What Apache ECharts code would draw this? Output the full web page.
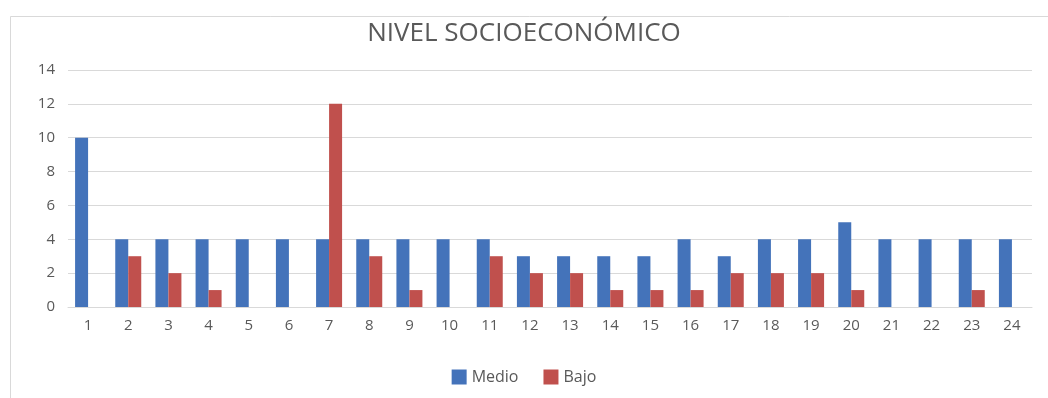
<!DOCTYPE html>
<html>
<head>
<meta charset="utf-8">
<script src="https://cdn.jsdelivr.net/npm/echarts@6/dist/echarts.min.js"></script>
<style>
html,body{margin:0;padding:0;background:#fff;}
#chart{width:1048px;height:398px;}
</style>
</head>
<body>
<div id="chart"></div>
<script>
const categories = ['1','2','3','4','5','6','7','8','9','10','11','12','13','14','15','16','17','18','19','20','21','22','23','24'];
const medio = [10,4,4,4,4,4,4,4,4,4,4,3,3,3,3,4,3,4,4,5,4,4,4,4];
const bajo  = [0,3,2,1,0,0,12,3,1,0,3,2,2,1,1,1,2,2,2,1,0,0,1,0];
const seriesNames = ['Medio','Bajo'];
const titleText = 'NIVEL SOCIOECONÓMICO';

const chart = echarts.init(document.getElementById('chart'), null, {renderer:'canvas'});
const font = '"Open Sans", "DejaVu Sans", sans-serif';
chart.setOption({
  animation:false,
  backgroundColor:'#fff',
  graphic:[{
    type:'rect', left:8, top:14, shape:{width:1060, height:400},
    style:{fill:'none', stroke:'#d9d9d9', lineWidth:1}, silent:true, z:-1
  }],
  title:{
    text:titleText, left:'center', top:16,
    textStyle:{fontFamily:font, fontSize:26, fontWeight:'normal', color:'#595959'}
  },
  legend:{
    top:364, left:'center', itemWidth:15, itemHeight:15, itemGap:25,
    icon:'rect',
    textStyle:{fontFamily:font, fontSize:16, color:'#595959'},
    data:seriesNames
  },
  grid:{left:68, right:16, top:70, bottom:91},
  xAxis:{
    type:'category', data:categories,
    axisLine:{lineStyle:{color:'#d9d9d9'}},
    axisTick:{show:false},
    axisLabel:{fontFamily:font, fontSize:15, color:'#595959', margin:11}
  },
  yAxis:{
    type:'value', min:0, max:14, interval:2,
    axisLine:{show:false}, axisTick:{show:false},
    splitLine:{lineStyle:{color:'#d9d9d9'}},
    axisLabel:{fontFamily:font, fontSize:15, color:'#595959', margin:13}
  },
  series:[
    {name:seriesNames[0], type:'bar', data:medio, barWidth:13, barGap:'0%', itemStyle:{color:'#4473BA'}},
    {name:seriesNames[1], type:'bar', data:bajo, barWidth:13, barGap:'0%', itemStyle:{color:'#C0504D'}}
  ]
});
</script>
</body>
</html>
